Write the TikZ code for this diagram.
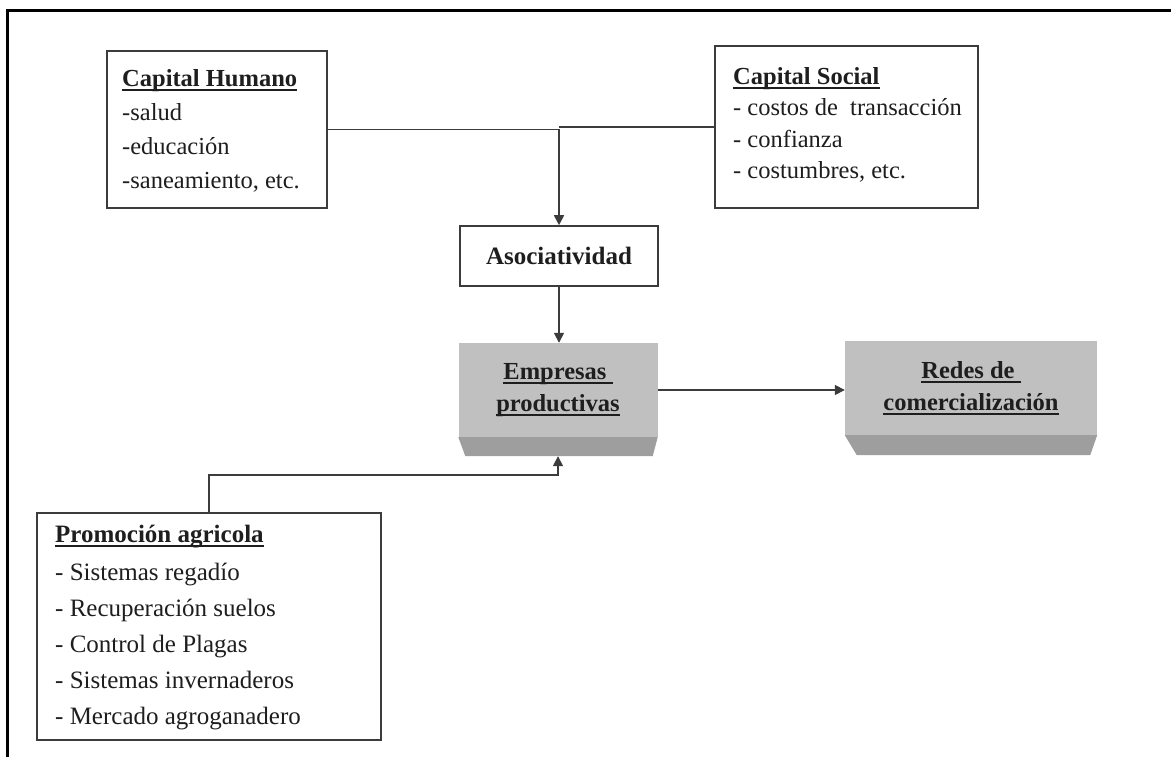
\documentclass[tikz,border=0pt]{standalone}
\usepackage{fontspec}
\setmainfont{Liberation Serif}
\usetikzlibrary{arrows.meta,calc}
\definecolor{facegray}{RGB}{192,192,192}
\definecolor{bevelgray}{RGB}{158,158,158}
\definecolor{linegray}{RGB}{60,60,60}
\definecolor{inkcol}{RGB}{30,30,30}
\newcommand\myul[1]{\setbox0\hbox{#1}\rlap{\rule[-4.5pt]{\wd0}{1.8pt}}\box0}
\begin{document}
\begin{tikzpicture}[x=1pt,y=-1pt,
  box/.style={draw=linegray, line width=1.6pt, fill=white, inner sep=0pt},
  txt/.style={inner sep=0pt, align=left, anchor=north west, text=inkcol},
  face/.style={fill=facegray, draw=none, inner sep=0pt, align=center, text=inkcol,
    font=\fontsize{24.5}{32}\selectfont\bfseries},
  bevel/.style={fill=bevelgray, draw=none},
  conn/.style={draw=linegray, line width=1.7pt},
  arr/.style={conn, -{Triangle[length=10pt,width=10pt]}},
  frame/.style={draw=black, line width=3pt},
]
\useasboundingbox (0,0) rectangle (1171,757);
\draw[frame] (1171,11) -- (7,11) -- (7,757);

% boxes
\node[box, minimum width=220, minimum height=157] (ch) at (217,129.5) {};
\node[box, minimum width=263, minimum height=162] (cs) at (846.5,127) {};
\node[box, minimum width=198, minimum height=60, text=inkcol,
  font=\fontsize{25}{30}\selectfont\bfseries] (asoc) at (559,256) {Asociatividad};
\node[box, minimum width=344, minimum height=227] (promo) at (209,626.5) {};

% texts
\node[txt, font=\fontsize{24.5}{34}\selectfont] (cht) at (122,69)
  {\textbf{\myul{Capital Humano}}\\-salud\\-educación\\-saneamiento, etc.};
\node[txt, font=\fontsize{24.5}{31.5}\selectfont] (cst) at (733,67)
  {\textbf{\myul{Capital Social}}\\- costos de\ \ transacción\\- confianza\\- costumbres, etc.};
\node[txt, font=\fontsize{25}{36}\selectfont] (promot) at (55,525)
  {\textbf{\myul{Promoción agricola}}\\[2pt]- Sistemas regadío\\- Recuperación suelos\\- Control de Plagas\\- Sistemas invernaderos\\- Mercado agroganadero};

% 3D blocks
\node[face, minimum width=199, minimum height=94] (emp) at (558,390)
  {\myul{Empresas\ }\\\myul{productivas}};
\fill[bevelgray] (emp.south west) -- (emp.south east) -- ($(emp.south east)+(-5,19)$)
  -- ($(emp.south west)+(7,19)$) -- cycle;
\coordinate (empb) at ($(emp.south)+(0,19)$);

\node[face, minimum width=252, minimum height=94] (redes) at (971,388)
  {\myul{Redes de\ }\\\myul{comercialización}};
\fill[bevelgray] (redes.south west) -- (redes.south east) -- ($(redes.south east)+(-7,20)$)
  -- ($(redes.south west)+(12,20)$) -- cycle;

% connectors
\draw[arr] (ch.east) -| (asoc.north);
\draw[conn] (cs.west) -- (cs.west -| asoc.north);
\draw[arr] (asoc.south) -- (asoc.south |- emp.north);
\draw[arr] (emp.east) -- (emp.east -| redes.west);
\coordinate (k) at (558,475);
\draw[arr] (promo.north) |- (k) -- (empb);
\end{tikzpicture}
\end{document}
